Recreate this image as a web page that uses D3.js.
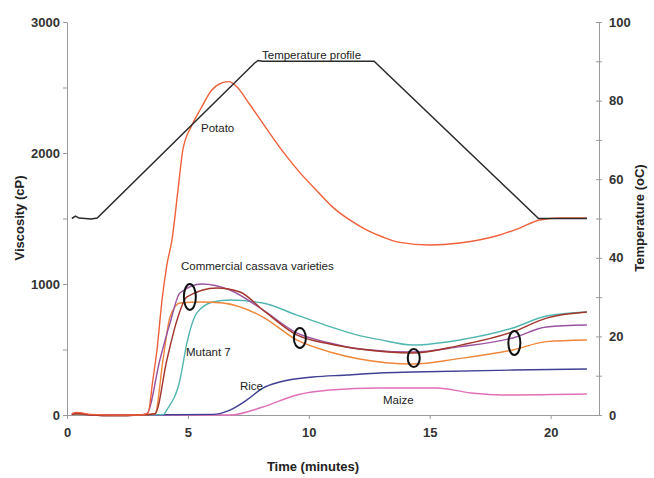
<!DOCTYPE html>
<html>
<head>
<meta charset="utf-8">
<script src="https://cdn.jsdelivr.net/npm/d3@7"></script>
<style>
  body { margin: 0; background: #fff; }
  text { font-family: "Liberation Sans", Arial, sans-serif; }
  .axis path, .axis line { stroke: #9a9a9a; }
  .axis text { font-size: 13px; font-weight: bold; fill: #333; }
  .lbl { font-size: 11.5px; fill: #222; }
  .title { font-size: 13px; font-weight: bold; fill: #222; }
</style>
</head>
<body>
<svg id="chart" width="654" height="478"></svg>
<script>
// time in minutes, viscosity in cP, temperature in oC
var tempTime = [0.2, 0.35, 0.5, 1.0, 1.25, 7.75, 7.9, 8.1, 12.7, 19.5, 21.5];
var tempVal  = [50, 50.6, 50.1, 49.9, 50.1, 89.5, 90.2, 90, 90, 50, 50];

var potatoTime = [0.2, 0.4, 1, 2, 3, 3.35, 3.55, 3.72, 3.93, 4.13, 4.34, 4.59, 4.79, 5.17, 5.5, 5.99, 6.4, 6.7, 7.0, 7.56, 8.18, 8.93, 9.63, 10.33, 11.0, 11.69, 12.4, 13.06, 13.76, 15.0, 16.24, 17.89, 18.72, 19.55, 20.37, 21.5];
var potatoVal  = [10, 20, 5, 0, 0, 15, 267, 496, 878, 1145, 1336, 1718, 2023, 2214, 2328, 2481, 2535, 2545, 2510, 2370, 2205, 2010, 1850, 1712, 1585, 1489, 1412, 1359, 1318, 1298, 1313, 1374, 1427, 1489, 1504, 1504];

var purpleTime = [0.2, 0.4, 1, 2, 3, 3.3, 3.84, 4.26, 4.67, 5.58, 6.74, 8.1, 9.5, 10.87, 12.1, 14.3, 16.2, 18.43, 19.83, 21.5];
var purpleVal  = [5, 15, 0, -5, 0, 10, 420, 702, 931, 1000, 954, 802, 626, 550, 504, 481, 520, 588, 672, 687];

var brownTime = [0.2, 0.4, 1, 2, 3, 3.64, 4.13, 4.55, 4.96, 6.2, 7.15, 8.1, 9.5, 10.87, 12.1, 14.3, 16.2, 18.43, 19.83, 21.5];
var brownVal  = [5, 12, 0, -5, 0, 10, 420, 725, 901, 969, 939, 802, 611, 542, 504, 473, 530, 634, 740, 786];

var orangeTime = [0.2, 0.4, 1, 2, 3, 3.64, 3.97, 4.26, 4.67, 5.5, 6.45, 8.1, 9.5, 10.87, 12.1, 14.3, 16.2, 18.43, 19.83, 21.5];
var orangeVal  = [5, 10, 0, -5, 0, 10, 420, 748, 855, 863, 855, 748, 573, 481, 427, 389, 430, 496, 560, 572];

var tealTime = [0.2, 0.4, 1, 2, 3, 4.0, 4.13, 4.67, 4.96, 5.37, 6.03, 6.74, 8.1, 9.5, 10.87, 12.1, 12.93, 14.3, 16.24, 18.43, 19.83, 21.5];
var tealVal  = [5, 10, 0, -5, 0, 5, 40, 267, 550, 779, 863, 878, 855, 763, 675, 606, 575, 534, 573, 664, 756, 786];

var riceTime = [0.2, 0.4, 1, 3, 6.03, 6.74, 7.44, 8.1, 8.8, 10.17, 11.57, 12.93, 14.3, 18.43, 21.5];
var riceVal  = [5, 10, 0, 0, 5, 38, 115, 206, 252, 290, 305, 321, 328, 343, 351];

var maizeTime = [0.2, 0.4, 1, 3, 6.74, 8.1, 9.5, 10.87, 12.93, 14.3, 15.3, 16.7, 18.0, 21.5];
var maizeVal  = [5, 10, 0, 0, 0, 61, 153, 191, 206, 206, 206, 168, 153, 160];

// marked points on the cassava curves
var markTime = [5.08, 9.63, 14.34, 18.5];
var markVisc = [901, 588, 435, 550];
var markRy   = [13, 10, 9, 12];

var xTicks = [0, 5, 10, 15, 20];
var yTicks = [0, 500, 1000, 1500, 2000, 2500, 3000];
var tTicks = [0, 10, 20, 30, 40, 50, 60, 70, 80, 90, 100];

var svg = d3.select("#chart");
var x = d3.scaleLinear().domain([0, 22]).range([67, 599]);
var y = d3.scaleLinear().domain([0, 3000]).range([415, 22]);
var yT = d3.scaleLinear().domain([0, 100]).range([415, 22]);

// axes
svg.append("g").attr("class", "axis").attr("transform", "translate(0,415)")
  .call(d3.axisBottom(x).tickValues(xTicks).tickSize(4).tickSizeOuter(0).tickPadding(9));
svg.append("g").attr("class", "axis").attr("transform", "translate(67,0)")
  .call(d3.axisLeft(y).tickValues(yTicks).tickSize(4).tickSizeOuter(0).tickPadding(3)
    .tickFormat(d => d % 1000 === 0 ? d : ""));
var ra = svg.append("g").attr("class", "axis").attr("transform", "translate(599,0)")
  .call(d3.axisRight(yT).tickValues(tTicks).tickSize(4).tickSizeOuter(0).tickPadding(6)
    .tickFormat(d => d % 20 === 0 ? d : ""));
ra.selectAll(".tick line").attr("x1", -3).attr("x2", 3);

// series
function series(times, vals, scale, color, w, curve) {
  var pts = times.map((t, i) => [t, vals[i]]);
  svg.append("path")
    .datum(pts)
    .attr("fill", "none")
    .attr("stroke", color)
    .attr("stroke-width", w || 1.4)
    .attr("d", d3.line().x(d => x(d[0])).y(d => scale(d[1])).curve(curve || d3.curveMonotoneX));
}

series(maizeTime, maizeVal, y, "#e070b8");
series(riceTime, riceVal, y, "#3f3f94");
series(tealTime, tealVal, y, "#52b6b0");
series(orangeTime, orangeVal, y, "#f0863a");
series(purpleTime, purpleVal, y, "#9a52a0");
series(brownTime, brownVal, y, "#a3352c");
series(potatoTime, potatoVal, y, "#f0603a");
series(tempTime, tempVal, yT, "#2a2a2a", 1.5, d3.curveLinear);

// ellipses
markTime.forEach((t, i) => {
  svg.append("ellipse")
    .attr("cx", x(t)).attr("cy", y(markVisc[i]))
    .attr("rx", 6).attr("ry", markRy[i])
    .attr("fill", "none").attr("stroke", "#111").attr("stroke-width", 2);
});

// annotations
var notes = [
  ["Temperature profile", 262, 59],
  ["Potato", 201, 132],
  ["Commercial cassava varieties", 181, 270],
  ["Mutant 7", 186, 356],
  ["Rice", 240, 390],
  ["Maize", 383, 404]
];
notes.forEach(n => {
  svg.append("text").attr("class", "lbl").attr("x", n[1]).attr("y", n[2]).text(n[0]);
});

// titles
svg.append("text").attr("class", "title").attr("x", 313).attr("y", 471)
  .attr("text-anchor", "middle").text("Time (minutes)");
svg.append("text").attr("class", "title")
  .attr("transform", "translate(24,218) rotate(-90)")
  .attr("text-anchor", "middle").text("Viscosity (cP)");
svg.append("text").attr("class", "title")
  .attr("transform", "translate(644,218) rotate(-90)")
  .attr("text-anchor", "middle").text("Temperature (oC)");
</script>
</body>
</html>
